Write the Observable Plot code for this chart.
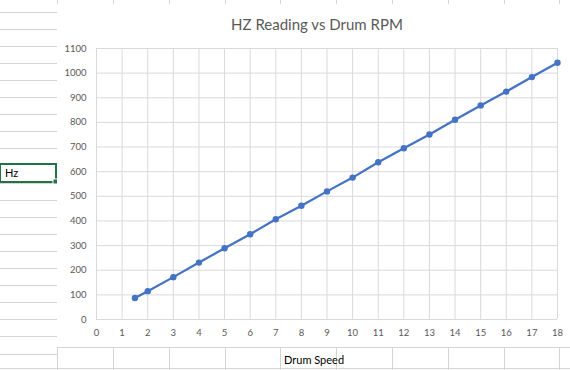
<!DOCTYPE html>
<html>
<head>
<meta charset="utf-8">
<script src="https://cdn.jsdelivr.net/npm/d3@7"></script>
<script src="https://cdn.jsdelivr.net/npm/@observablehq/plot@0.6"></script>
<style>
  html, body { margin: 0; padding: 0; background: #fff; }
  #page { position: relative; width: 570px; height: 370px; overflow: hidden; background: #fff; font-family: Lato, "Open Sans", sans-serif; }
  #sheet { position: absolute; left: 0; top: 0; }
  #chartbox { position: absolute; left: 57px; top: 4px; width: 513px; height: 343px; background: #fff; }
  #title { position: absolute; left: 57px; top: 15px; width: 520px; text-align: center; font-size: 15px; color: #595959; }
  #plot { position: absolute; left: 57px; top: 4px; }
  .cell { position: absolute; font-size: 11px; color: #000; font-family: Lato, "Open Sans", sans-serif; }
</style>
</head>
<body>
<div id="page">
  <svg id="sheet" width="570" height="370"></svg>
  <div id="chartbox"></div>
  <div id="title">HZ Reading vs Drum RPM</div>
  <div id="plot"></div>
  <div class="cell" style="left:5px; top:166px;">Hz</div>
  <div class="cell" style="left:284px; top:353px;">Drum Speed</div>
</div>
<script>
// Data
const drumSpeed = [1.5, 2, 3, 4, 5, 6, 7, 8, 9, 10, 11, 12, 13, 14, 15, 16, 17, 18];
const hzReading = [87, 115, 172, 231, 289, 346, 407, 462, 520, 576, 638, 695, 751, 811, 869, 925, 984, 1042];
const xTicks = [0, 1, 2, 3, 4, 5, 6, 7, 8, 9, 10, 11, 12, 13, 14, 15, 16, 17, 18];
const yTicks = [0, 100, 200, 300, 400, 500, 600, 700, 800, 900, 1000, 1100];

const data = drumSpeed.map((x, i) => ({x, y: hzReading[i]}));

// Spreadsheet background (decoration)
const sheet = d3.select("#sheet");
const gridColor = "#d4d4d4";
// left column row lines
for (let k = 0; k <= 21; k++) {
  const y = Math.round(11.5 + 17.1 * k) + 0.5;
  sheet.append("line").attr("x1", 0).attr("x2", 57).attr("y1", y).attr("y2", y).attr("stroke", gridColor);
}
// column boundary
sheet.append("line").attr("x1", 57.5).attr("x2", 57.5).attr("y1", 0).attr("y2", 370).attr("stroke", gridColor);
// top strip and bottom strip
sheet.append("line").attr("x1", 57).attr("x2", 570).attr("y1", 4.5).attr("y2", 4.5).attr("stroke", gridColor);
sheet.append("line").attr("x1", 57).attr("x2", 570).attr("y1", 347.5).attr("y2", 347.5).attr("stroke", gridColor);
sheet.append("line").attr("x1", 0).attr("x2", 570).attr("y1", 368.5).attr("y2", 368.5).attr("stroke", gridColor);
for (let k = 0; k < 9; k++) {
  const x = Math.round(113 + 55.8 * k) + 0.5;
  sheet.append("line").attr("x1", x).attr("x2", x).attr("y1", 0).attr("y2", 4).attr("stroke", gridColor);
  sheet.append("line").attr("x1", x).attr("x2", x).attr("y1", 347).attr("y2", 370).attr("stroke", gridColor);
}
// selected "Hz" cell
sheet.append("rect").attr("x", 0).attr("y", 164).attr("width", 56).attr("height", 18)
  .attr("fill", "#fff").attr("stroke", "#217346").attr("stroke-width", 2);
sheet.append("rect").attr("x", 53).attr("y", 179).attr("width", 5).attr("height", 5)
  .attr("fill", "#217346").attr("stroke", "#fff").attr("stroke-width", 1);

const chart = Plot.plot({
  width: 513,
  height: 343,
  marginLeft: 39,
  marginRight: 13,
  marginTop: 44,
  marginBottom: 28,
  style: {fontFamily: "Lato, 'Open Sans', sans-serif", fontSize: "9.5px", color: "#595959", background: "transparent"},
  x: {domain: [0, 18], ticks: xTicks, tickSize: 0, tickPadding: 10, tickFormat: d => String(d), label: null},
  y: {domain: [0, 1100], ticks: yTicks, tickSize: 0, tickPadding: 10, tickFormat: d => String(d), label: null},
  marks: [
    Plot.gridX(xTicks, {stroke: "#d9d9d9", strokeOpacity: 1}),
    Plot.gridY(yTicks, {stroke: "#d9d9d9", strokeOpacity: 1}),
    Plot.line(data, {x: "x", y: "y", stroke: "#4472C4", strokeWidth: 2.25}),
    Plot.dot(data, {x: "x", y: "y", r: 3.2, fill: "#4472C4", stroke: "none"})
  ]
});
document.getElementById("plot").appendChild(chart);
</script>
</body>
</html>
